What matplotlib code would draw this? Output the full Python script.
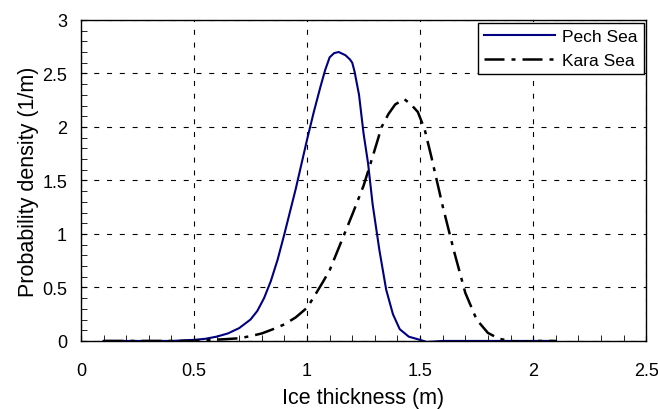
import matplotlib
matplotlib.use("Agg")
import matplotlib.pyplot as plt
from matplotlib.ticker import MultipleLocator, FuncFormatter

plt.rcParams['font.family'] = ['Liberation Sans', 'DejaVu Sans']

pech_x = [0.1, 0.2, 0.3, 0.4, 0.45, 0.5, 0.55, 0.6, 0.65, 0.7, 0.75, 0.78, 0.81, 0.84,
          0.87, 0.9, 0.95, 1.0, 1.03, 1.06, 1.08, 1.1, 1.12, 1.14, 1.17, 1.19, 1.2,
          1.21, 1.23, 1.25, 1.27, 1.29, 1.32, 1.35, 1.38, 1.41, 1.45, 1.5, 1.53,
          1.6, 1.7, 1.8, 1.9, 2.0, 2.1]
pech_y = [0.0, 0.0, 0.0, 0.0, 0.005, 0.01, 0.02, 0.04, 0.07, 0.12, 0.2, 0.28, 0.40, 0.56,
          0.76, 1.0, 1.42, 1.88, 2.14, 2.38, 2.53, 2.65, 2.69, 2.70, 2.67, 2.63, 2.60,
          2.52, 2.30, 1.94, 1.66, 1.28, 0.85, 0.48, 0.25, 0.11, 0.04, 0.01, -0.01,
          0.0, 0.0, 0.0, 0.0, 0.0, 0.0]

kara_x = [0.1, 0.2, 0.3, 0.4, 0.45, 0.5, 0.55, 0.6, 0.65, 0.7, 0.75, 0.8, 0.85, 0.9, 0.95,
          1.0, 1.03, 1.07, 1.1, 1.15, 1.2, 1.25, 1.29, 1.33, 1.36, 1.39, 1.43, 1.46,
          1.49, 1.52, 1.55, 1.6, 1.65, 1.7, 1.75, 1.8, 1.85, 1.9, 1.95, 2.0, 2.05, 2.1]
kara_y = [0.0, 0.0, 0.0, 0.0, 0.0, 0.0, 0.008, 0.012, 0.018, 0.025, 0.045, 0.07, 0.11, 0.155, 0.22,
          0.31, 0.41, 0.55, 0.66, 0.92, 1.18, 1.45, 1.72, 2.0, 2.12, 2.21, 2.26, 2.21,
          2.14, 1.98, 1.72, 1.26, 0.84, 0.45, 0.2, 0.075, 0.02, 0.0, -0.01, 0.0, 0.0, 0.0]

fig = plt.figure(figsize=(6.58, 4.10), dpi=100)
ax = fig.add_axes([0.123, 0.166, 0.859, 0.783])

ax.plot(pech_x, pech_y, color='#000080', lw=1.5, label='Pech Sea')
ax.plot(kara_x, kara_y, color='black', lw=1.8, linestyle=(0, (8, 2.8, 1.6, 2.8)),
        label='Kara Sea')

ax.set_xlim(0, 2.5)
ax.set_ylim(0, 3)
ax.xaxis.set_major_locator(MultipleLocator(0.5))
ax.yaxis.set_major_locator(MultipleLocator(0.5))
ax.xaxis.set_minor_locator(MultipleLocator(0.1))
ax.yaxis.set_minor_locator(MultipleLocator(0.1))
ax.xaxis.set_major_formatter(FuncFormatter(lambda v, p: f"{v:g}"))
ax.yaxis.set_major_formatter(FuncFormatter(lambda v, p: f"{v:g}"))

ax.tick_params(which='both', direction='in', top=False, right=False, color='black')
ax.tick_params(which='major', length=4, labelsize=13)
ax.tick_params(which='minor', length=4)
ax.tick_params(axis='x', which='major', pad=15)
ax.tick_params(axis='y', which='major', pad=10)

ax.grid(True, which='major', color='black', lw=0.8, linestyle=(0, (4.5, 7)))
for s in ax.spines.values():
    s.set_linewidth(1.0)
    s.set_color('black')

ax.set_xlabel('Ice thickness (m)', fontsize=15.5, labelpad=6)
ax.set_ylabel('Probability density (1/m)', fontsize=15.5, labelpad=2)

leg = ax.legend(loc='upper right', fontsize=12.5, fancybox=False, framealpha=1,
                edgecolor='black', borderaxespad=0.15, handlelength=4.1,
                handletextpad=0.4, borderpad=0.35, labelspacing=0.5)
leg.get_frame().set_linewidth(1.0)

fig.savefig('out.png', dpi=100)
